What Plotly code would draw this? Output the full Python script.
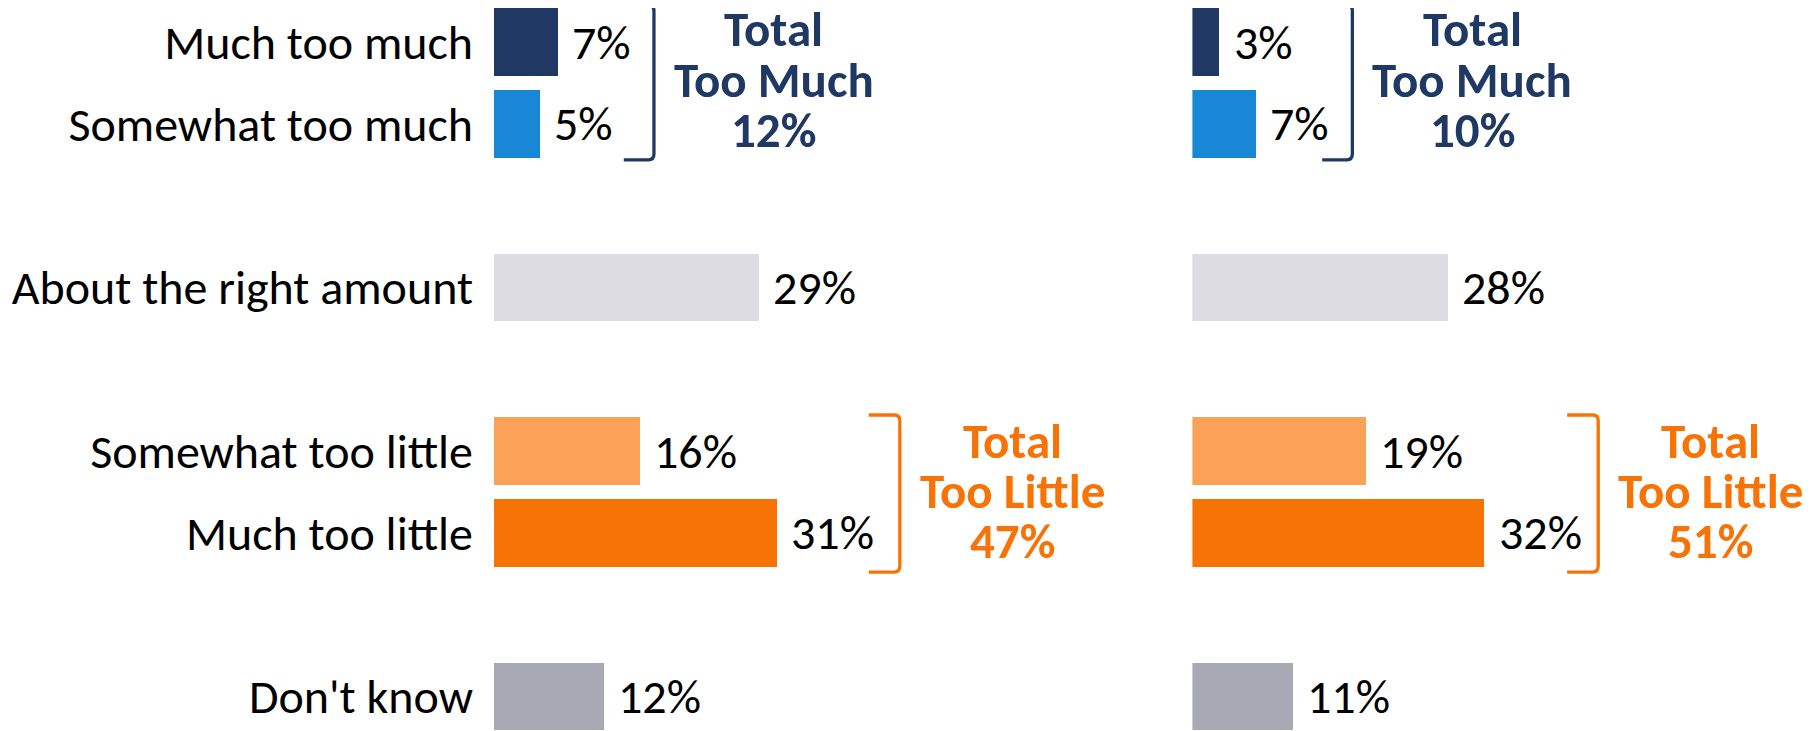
import plotly.graph_objects as go

# ---------------- data ----------------
categories = ["Much too much", "Somewhat too much", "About the right amount",
              "Somewhat too little", "Much too little", "Don't know"]
left_values = [7, 5, 29, 16, 31, 12]
right_values = [3, 7, 28, 19, 32, 11]
row_positions = [0, 1, 3, 5, 6, 8]
bar_colors = ["#1F3864", "#1787D6", "#DCDCE2", "#FCA257", "#F87306", "#A8A9B5"]

NAVY = "#1F3864"
ORANGE = "#F87306"
FONT = "Calibri, Carlito, Lato, sans-serif"
FS = 48
FS_BOLD = 49

W, H = 1810, 731
PAGE = 8  # browser body margin
PX_PER_PCT = 9.14
ROW_PX = 81.8
ROW0_PX = 42 - PAGE
left_dom = [(494 - PAGE) / W, 0.65]
right_dom = [(1192.4 - PAGE) / W, 1.0]
left_range = [0, (left_dom[1] - left_dom[0]) * W / PX_PER_PCT]
right_range = [0, (right_dom[1] - right_dom[0]) * W / PX_PER_PCT]
y_range = [(H - ROW0_PX) / ROW_PX, -ROW0_PX / ROW_PX]

fig = go.Figure()
for vals, xa, ya in [(left_values, "x", "y"), (right_values, "x2", "y2")]:
    fig.add_trace(go.Bar(
        x=vals, y=row_positions, orientation="h", width=0.824,
        marker=dict(color=bar_colors, line=dict(width=0)),
        xaxis=xa, yaxis=ya, hoverinfo="skip", showlegend=False,
    ))

annotations = []
shapes = []


def bracket(xref, yref, x0, x1, y0, y1, color):
    rx, ry = 0.6, 0.07
    path = (f"M {x0},{y0} L {x1 - rx},{y0} Q {x1},{y0} {x1},{y0 + ry} "
            f"L {x1},{y1 - ry} Q {x1},{y1} {x1 - rx},{y1} L {x0},{y1}")
    shapes.append(dict(type="path", path=path, xref=xref, yref=yref,
                       line=dict(color=color, width=3.3)))


for vals, xa, ya in [(left_values, "x", "y"), (right_values, "x2", "y2")]:
    for v, yp in zip(vals, row_positions):
        annotations.append(dict(x=v, y=yp, xref=xa, yref=ya, text=f"{v}%",
                                showarrow=False, xanchor="left", yanchor="middle",
                                xshift=12, font=dict(family=FONT, size=FS, color="#000000")))
    too_much = vals[0] + vals[1]
    too_little = vals[3] + vals[4]
    bracket(xa, ya, 14.2, 17.5, -0.45, 1.44, NAVY)
    bracket(xa, ya, 41.0, 44.4, 4.56, 6.48, ORANGE)
    for lines, xc, yc, col in [(["Total", "Too Much", f"{too_much}%"], 30.6, 0.46, NAVY),
                               (["Total", "Too Little", f"{too_little}%"], 56.7, 5.49, ORANGE)]:
        for i, t in enumerate(lines):
            annotations.append(dict(x=xc, y=yc + (i - 1) * 0.615, xref=xa, yref=ya,
                                    text=f"<b>{t}</b>", showarrow=False,
                                    xanchor="center", yanchor="middle", height=48,
                                    font=dict(family=FONT, size=FS_BOLD, color=col)))

axis_common = dict(showgrid=False, zeroline=False, showline=False, showticklabels=False, ticks="")
fig.update_layout(
    width=W, height=H,
    margin=dict(l=0, r=0, t=0, b=0),
    paper_bgcolor="white", plot_bgcolor="white",
    font=dict(family=FONT, size=FS, color="#000000"),
    xaxis=dict(domain=left_dom, range=left_range, anchor="y", **axis_common),
    xaxis2=dict(domain=right_dom, range=right_range, anchor="y2", **axis_common),
    yaxis=dict(domain=[0, 1], range=y_range, anchor="x", showgrid=False, zeroline=False,
               showline=False, tickmode="array", tickvals=row_positions, ticktext=categories,
               ticks="", ticklabelstandoff=20,
               tickfont=dict(family=FONT, size=FS, color="#000000")),
    yaxis2=dict(domain=[0, 1], range=y_range, anchor="x2", matches="y", showgrid=False,
                zeroline=False, showline=False, showticklabels=False, ticks=""),
    annotations=annotations,
    shapes=shapes,
    bargap=0,
)

fig.write_html("out.html")
